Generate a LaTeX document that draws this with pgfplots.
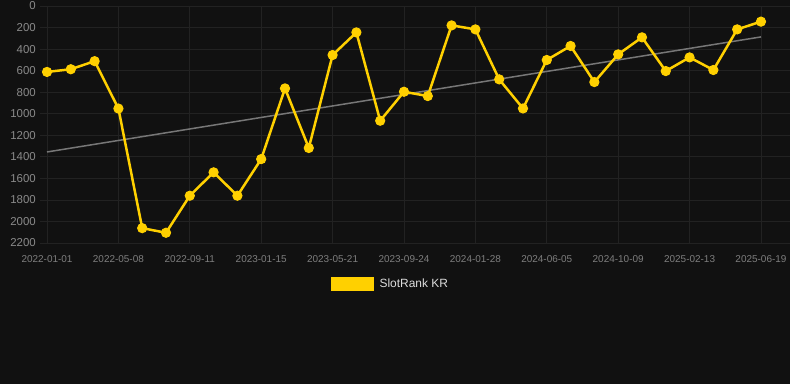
\documentclass[border=0pt]{standalone}
\usepackage{pgfplots}
\pgfplotsset{compat=1.18}
\usepackage{pgfplotstable}
\usepackage{fontspec}
\setmainfont{Liberation Sans}
\definecolor{bg}{HTML}{111111}
\definecolor{gridc}{HTML}{222222}
\definecolor{gold}{HTML}{FFD000}
\definecolor{trend}{HTML}{777777}
\definecolor{ylab}{HTML}{8A8A8A}
\definecolor{xlab}{HTML}{7E7E7E}
\definecolor{legtext}{HTML}{DDDDDD}
\pgfplotstableread{
x y
0 612
1 587
2 512
3 952
4 2062
5 2105
6 1761
7 1544
8 1761
9 1421
10 765
11 1318
12 455
13 245
14 1065
15 796
16 836
17 180
18 217
19 681
20 951
21 501
22 371
23 706
24 449
25 291
26 604
27 477
28 594
29 217
30 145
}\rankdata
\begin{document}
\begin{tikzpicture}
\fill[bg] (0,0) rectangle (790bp,384bp);
\useasboundingbox (0,0) rectangle (790bp,384bp);
\begin{axis}[
  at={(40bp,141bp)}, anchor=south west,
  scale only axis, width=750bp, height=237bp,
  xmin=-0.2945, xmax=31.22,
  ymin=0, ymax=2200, y dir=reverse,
  xtick={0,3,...,30},
  xticklabels={2022-01-01,2022-05-08,2022-09-11,2023-01-15,2023-05-21,2023-09-24,2024-01-28,2024-06-05,2024-10-09,2025-02-13,2025-06-19},
  ytick={0,200,...,2200},
  yticklabels={0,200,400,600,800,1000,1200,1400,1600,1800,2000,2200},
  grid=major, grid style={draw=gridc, line width=0.7bp},
  major tick length=0pt,
  axis line style={draw=none},
  clip=false,
  xticklabel style={font=\fontsize{10}{12}\selectfont, text=xlab, anchor=north, inner sep=0pt, yshift=-12.5bp},
  yticklabel style={font=\fontsize{11.5}{13}\selectfont, text=ylab, anchor=east, inner sep=0pt, xshift=-4bp},
  legend style={at={(0.466,-0.173)}, anchor=center, draw=none, fill=none, text=legtext,
    font=\fontsize{12}{14}\selectfont, inner sep=0pt, nodes={inner sep=0pt},
    /tikz/every odd column/.append style={column sep=6bp}},
  legend image code/.code={\fill[gold] (0bp,-6bp) rectangle (40bp,6bp);},
]
\addplot[trend, line width=1.5bp, forget plot] coordinates {(0,1355) (30,287)};
\addplot[gold, line width=2.5bp, mark=*, mark size=4.6bp, mark options={fill=gold, draw=gold, line width=1bp}] table[x=x, y=y] {\rankdata};
\addlegendentry{SlotRank KR}
\end{axis}
\end{tikzpicture}
\end{document}
